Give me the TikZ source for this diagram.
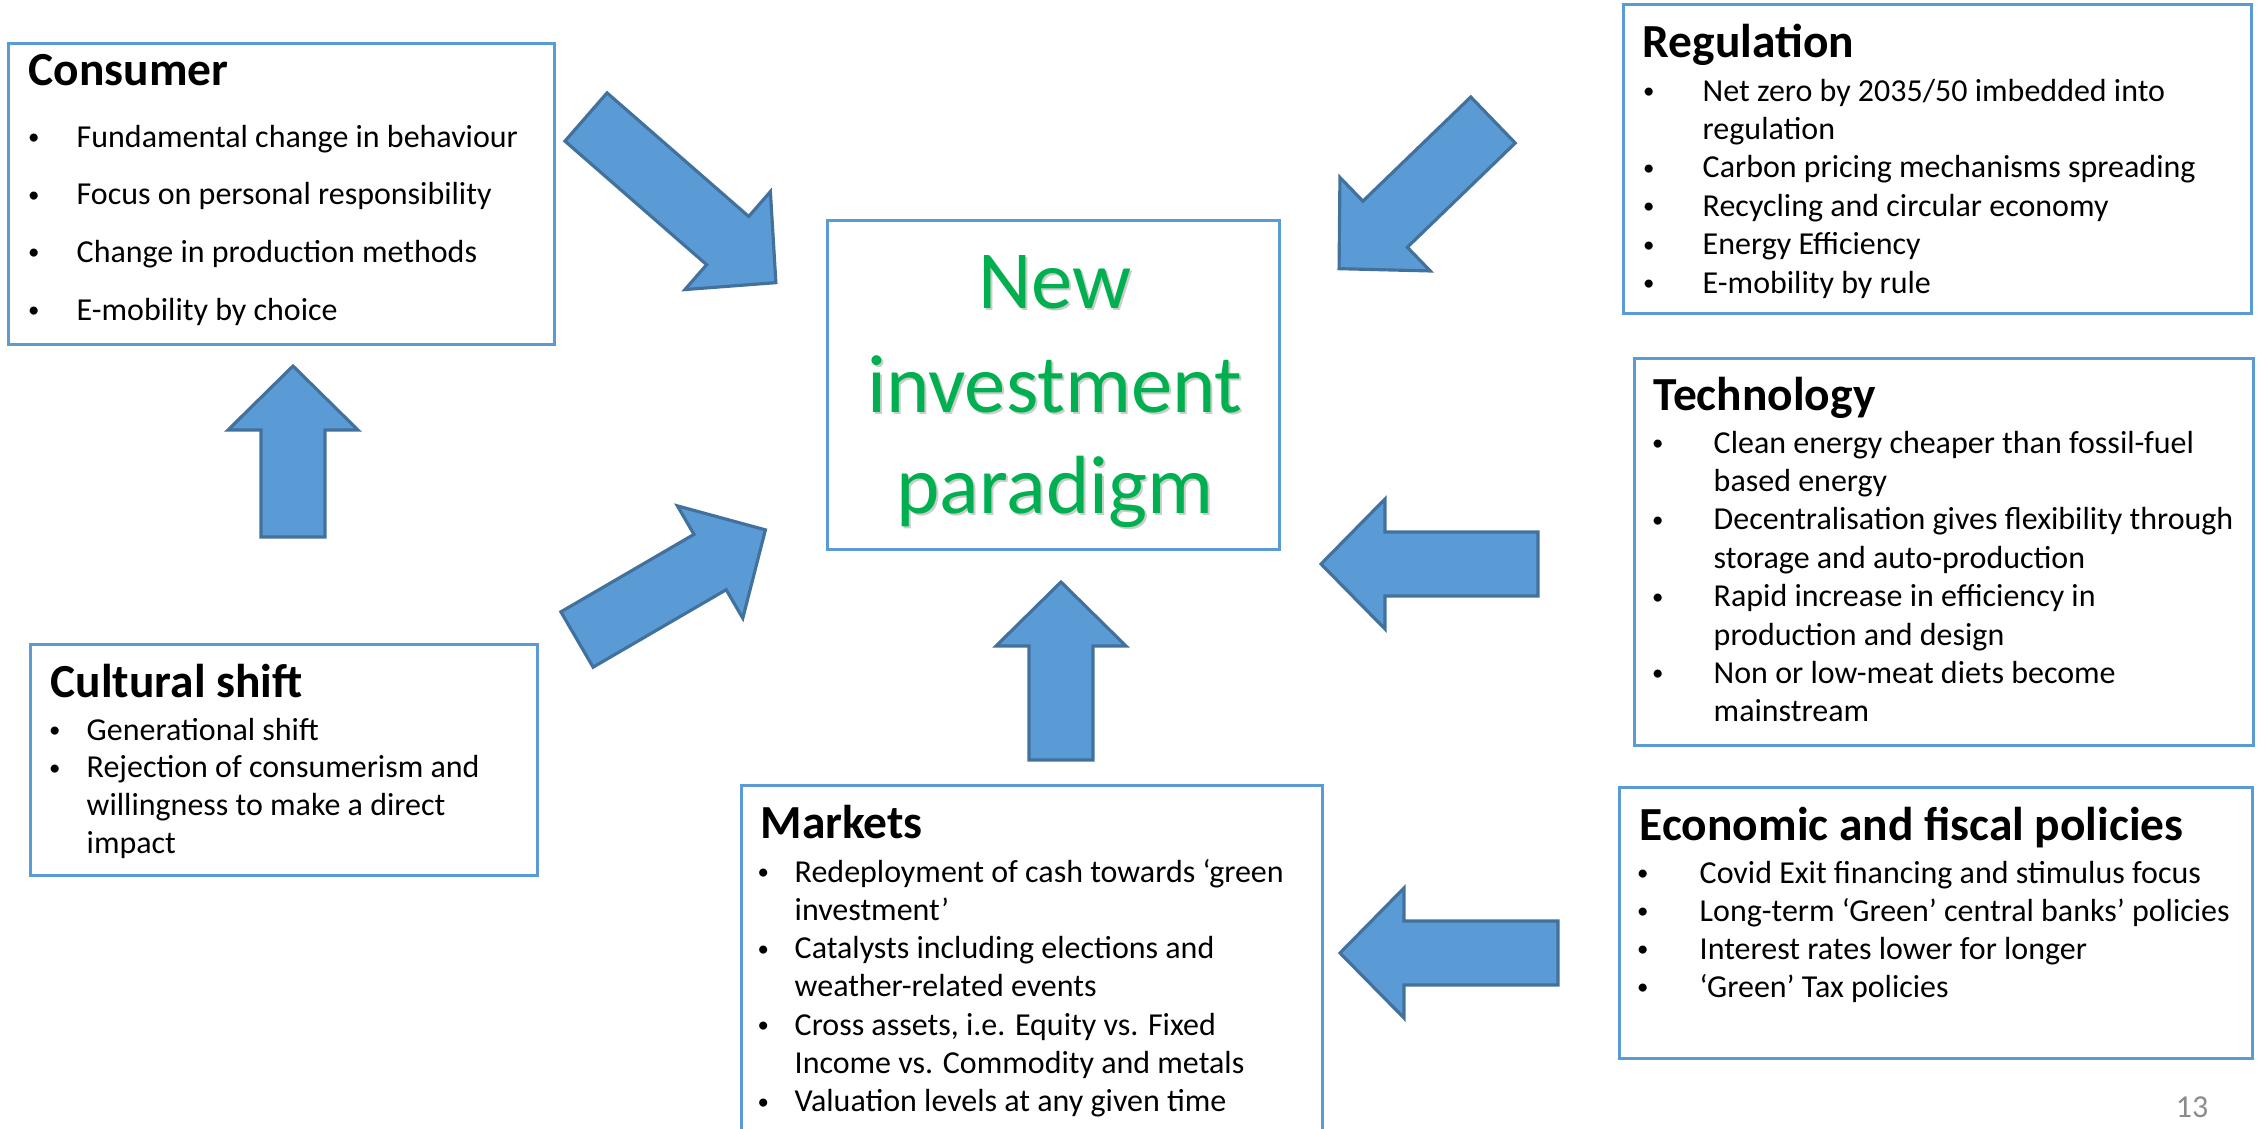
\documentclass[tikz,border=0pt]{standalone}
\usepackage{fontspec}
\setmainfont{Carlito}

\definecolor{boxblue}{HTML}{5B9BD5}
\definecolor{arrowedge}{HTML}{41719C}
\definecolor{paradigmgreen}{HTML}{00B050}
\definecolor{pagegray}{HTML}{8C8C8C}

\tikzset{
  panel/.style={draw=boxblue, line width=0.8pt, anchor=north west, inner sep=0pt},
  paneltitle/.style={anchor=base west, inner sep=0pt, font=\fontsize{13.5}{16}\selectfont\bfseries},
  body/.style={anchor=base west, inner sep=0pt, font=\fontsize{9.1}{11}\selectfont},
  paradigmtext/.style={anchor=base, inner sep=0pt, text=paradigmgreen, font=\fontsize{23.5}{28}\selectfont},
  paradigmshadow/.style={paradigmtext, text=black, opacity=0.2},
  blockarrow/.style={fill=boxblue, draw=arrowedge, line width=0.9pt, line join=miter}
}

% bullet set a given distance left of the text
\newcommand{\bl}[1]{\llap{\makebox[0pt]{\raisebox{0.7pt}{\fontsize{6.5}{7}\selectfont •}}\hspace{#1}}}

% block arrow: tail centre, angle, length
\newcommand{\blockarrow}[3]{%
  \draw[blockarrow, shift={(#1)}, rotate=#2]
    (0,-0.32) -- ({#3-0.64},-0.32) -- ({#3-0.64},-0.65) -- (#3,0)
    -- ({#3-0.64},0.65) -- ({#3-0.64},0.32) -- (0,0.32) -- cycle;}

\begin{document}
\begin{tikzpicture}
        \useasboundingbox (0,0) rectangle (22.57,-11.28);

        % boxes
        \node[panel, minimum width=5.46cm, minimum height=3.01cm] (consumer) at (0.07,-0.42) {};
        \node[panel, minimum width=6.28cm, minimum height=3.09cm] (regulation) at (16.22,-0.03) {};
        \node[panel, minimum width=6.19cm, minimum height=3.87cm] (technology) at (16.33,-3.57) {};
        \node[panel, minimum width=5.07cm, minimum height=2.31cm] (cultural) at (0.29,-6.43) {};
        \node[panel, minimum width=5.81cm, minimum height=3.80cm] (markets) at (7.40,-7.84) {};
        \node[panel, minimum width=6.33cm, minimum height=2.71cm] (economic) at (16.18,-7.86) {};
        \node[panel, minimum width=4.52cm, minimum height=3.29cm] (paradigm) at (8.26,-2.19) {};

        % titles
        \node[paneltitle] (consumer-title) at (0.28,-0.85) {Consumer};
        \node[paneltitle] (regulation-title) at (16.42,-0.57) {Regulation};
        \node[paneltitle] (technology-title) at (16.53,-4.10) {Technology};
        \node[paneltitle] (cultural-title) at (0.50,-6.97) {Cultural shift};
        \node[paneltitle] (markets-title) at (7.60,-8.38) {Markets};
        \node[paneltitle] (economic-title) at (16.39,-8.40) {Economic and fiscal policies};

        % bullet lines
        \foreach \txt [count=\i from 0] in {{\bl{0.43cm}Fundamental change in behaviour},
            {\bl{0.43cm}Focus on personal responsibility},
            {\bl{0.43cm}Change in production methods},
            {\bl{0.43cm}E-mobility by choice}}
          \node[body] (consumer-\i) at (0.76,{-1.47-0.577*\i}) {\txt};

        \foreach \txt [count=\i from 0] in {{\bl{0.54cm}Net zero by 2035/50 imbedded into},
            {regulation},
            {\bl{0.54cm}Carbon pricing mechanisms spreading},
            {\bl{0.54cm}Recycling and circular economy},
            {\bl{0.54cm}Energy Efficiency},
            {\bl{0.54cm}E-mobility by rule}}
          \node[body] (regulation-\i) at (17.02,{-1.01-0.384*\i}) {\txt};

        \foreach \txt [count=\i from 0] in {{\bl{0.56cm}Clean energy cheaper than fossil-fuel},
            {based energy},
            {\bl{0.56cm}Decentralisation gives flexibility through},
            {storage and auto-production},
            {\bl{0.56cm}Rapid increase in efficiency in},
            {production and design},
            {\bl{0.56cm}Non or low-meat diets become},
            {mainstream}}
          \node[body] (technology-\i) at (17.13,{-4.53-0.384*\i}) {\txt};

        \foreach \txt [count=\i from 0] in {{\bl{0.32cm}Generational shift},
            {\bl{0.32cm}Rejection of consumerism and},
            {willingness to make a direct},
            {impact}}
          \node[body] (cultural-\i) at (0.86,{-7.40-0.377*\i}) {\txt};

        \foreach \txt [count=\i from 0] in {{\bl{0.315cm}Redeployment of cash towards ‘green},
            {investment’},
            {\bl{0.315cm}Catalysts including elections and},
            {weather-related events},
            {\bl{0.315cm}Cross assets, i.e. Equity vs. Fixed},
            {Income vs. Commodity and metals},
            {\bl{0.315cm}Valuation levels at any given time}}
          \node[body] (markets-\i) at (7.94,{-8.82-0.383*\i}) {\txt};

        \foreach \txt [count=\i from 0] in {{\bl{0.57cm}Covid Exit financing and stimulus focus},
            {\bl{0.57cm}Long-term ‘Green’ central banks’ policies},
            {\bl{0.57cm}Interest rates lower for longer},
            {\bl{0.57cm}‘Green’ Tax policies}}
          \node[body] (economic-\i) at (16.99,{-8.83-0.38*\i}) {\txt};

        % centre text
        \foreach \word/\y [count=\i] in {New/3.08, investment/4.12, paradigm/5.13} {
          \node[paradigmshadow] (shadow-\i) at (10.57,{-\y-0.02}) {\word};
          \node[paradigmtext] (word-\i) at (10.55,-\y) {\word};
        }

        % arrows
        \coordinate (consumer-arrow) at (5.86,-1.17);
        \coordinate (regulation-arrow) at (14.93,-1.20);
        \coordinate (technology-arrow) at (15.38,-5.64);
        \coordinate (economic-arrow) at (15.58,-9.53);
        \coordinate (markets-arrow) at (10.61,-7.60);
        \coordinate (cultural-arrow) at (5.77,-6.395);
        \coordinate (culture-up-arrow) at (2.93,-5.37);
        \blockarrow{consumer-arrow}{-41.1}{2.52}
        \blockarrow{regulation-arrow}{224}{2.14}
        \blockarrow{technology-arrow}{180}{2.17}
        \blockarrow{economic-arrow}{180}{2.18}
        \blockarrow{markets-arrow}{90}{1.78}
        \blockarrow{cultural-arrow}{30.2}{2.18}
        \blockarrow{culture-up-arrow}{90}{1.71}

        \node[anchor=base, inner sep=0pt, text=pagegray, font=\fontsize{9.1}{11}\selectfont] (page) at (21.92,-11.17) {13};
\end{tikzpicture}
\end{document}
